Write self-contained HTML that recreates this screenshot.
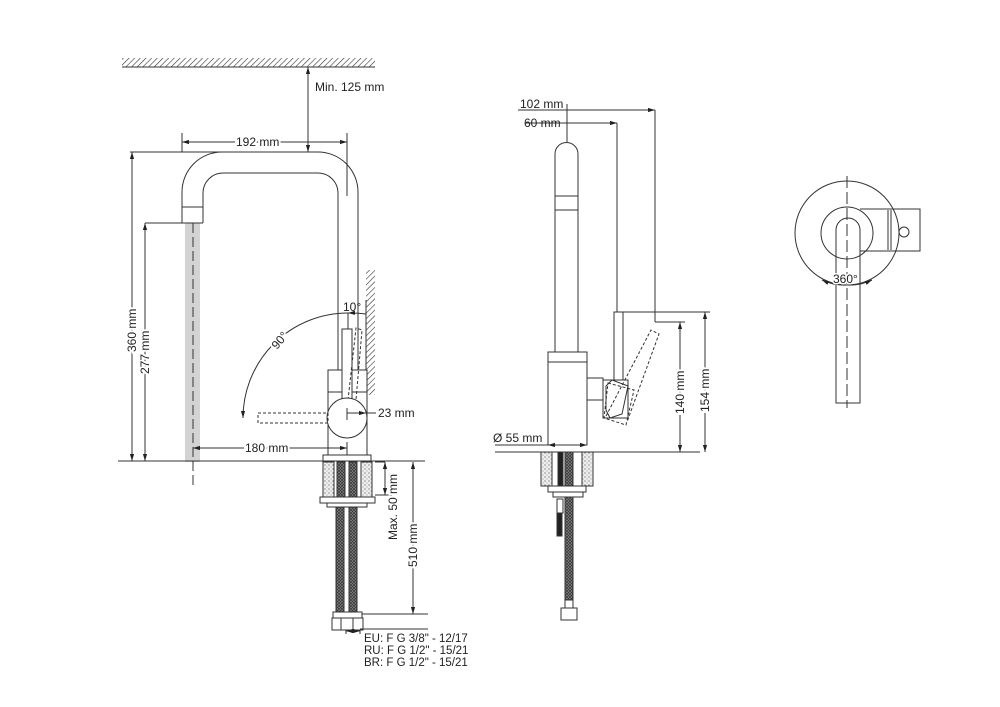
<!DOCTYPE html>
<html><head><meta charset="utf-8"><style>
html,body{margin:0;padding:0;background:#fff}
svg{display:block}
text{font-family:"Liberation Sans",Arial,sans-serif;fill:#222}
</style></head><body>
<svg width="1000" height="707" viewBox="0 0 1000 707" xmlns="http://www.w3.org/2000/svg">
<defs>
<pattern id="hatch" width="4" height="4" patternUnits="userSpaceOnUse" patternTransform="rotate(45)">
<line x1="0" y1="0" x2="0" y2="4" stroke="#333" stroke-width="1.2"/></pattern>
<pattern id="stip" width="4" height="4" patternUnits="userSpaceOnUse">
<rect width="4" height="4" fill="#eee"/><circle cx="1" cy="1" r="0.6" fill="#555"/><circle cx="3" cy="3" r="0.5" fill="#777"/></pattern>
<pattern id="braid" width="3" height="3" patternUnits="userSpaceOnUse">
<rect width="3" height="3" fill="#888"/><path d="M0 0L3 3M3 0L0 3" stroke="#333" stroke-width="0.7"/></pattern>
<marker id="a" viewBox="0 0 10 10" refX="10" refY="5" markerWidth="7" markerHeight="7" orient="auto-start-reverse"><path d="M0 2L10 5L0 8z" fill="#222"/></marker>
</defs>
<g stroke="#333" stroke-width="1" fill="none">
<rect x="122" y="58" width="253" height="9" fill="url(#hatch)" stroke="none"/>
<line x1="122" y1="67" x2="375" y2="67"/>
<line x1="308" y1="67" x2="308" y2="152" marker-start="url(#a)" marker-end="url(#a)"/>
<rect x="185" y="223" width="15" height="239" fill="#d3d3d3" stroke="none"/>
<line x1="193" y1="223" x2="193" y2="488" stroke-dasharray="10,4"/>
<path d="M182 223 V192 A40 40 0 0 1 222 152 H318 A40 40 0 0 1 358 192 V370"/>
<path d="M203 223 V193 A20 20 0 0 1 223 173 H318 A20 20 0 0 1 338 193 V370"/>
<line x1="182" y1="207" x2="203" y2="207"/><line x1="182" y1="223" x2="203" y2="223"/>
<rect x="366" y="270" width="9" height="125" fill="url(#hatch)" stroke="none"/>
<line x1="366" y1="300" x2="366" y2="395"/>
<rect x="328" y="370" width="39" height="85" fill="#fff"/>
<line x1="328" y1="392" x2="367" y2="392"/>
<rect x="342" y="329" width="10" height="72" fill="#fff"/>
<path d="M348 400 L356 328 L362 330 L356 400" stroke-dasharray="3,2"/>
<circle cx="347" cy="418" r="20" fill="#fff"/>
<rect x="258" y="413" width="70" height="10" stroke-dasharray="3,2"/>
<path d="M243 418 A105 105 0 0 1 348 313" marker-start="url(#a)"/>
<path d="M348 313 A105 105 0 0 1 366 314" marker-start="url(#a)"/>
<line x1="348" y1="313" x2="348" y2="329"/>
<line x1="347" y1="408" x2="347" y2="420"/>
<line x1="347" y1="413" x2="366" y2="413" marker-end="url(#a)"/>
<line x1="366" y1="413" x2="376" y2="413"/>
<line x1="118" y1="461" x2="425" y2="461"/>
<rect x="323" y="455" width="48" height="6" fill="#fff"/>
<rect x="323" y="462" width="11" height="35" fill="url(#stip)"/>
<rect x="361" y="462" width="11" height="35" fill="url(#stip)"/>
<rect x="337" y="462" width="8" height="35" fill="url(#braid)"/>
<rect x="349" y="462" width="8" height="35" fill="url(#braid)"/>
<rect x="320" y="497" width="55" height="6" fill="#fff"/>
<rect x="327" y="503" width="40" height="4" fill="#fff"/>
<rect x="336" y="507" width="8" height="105" fill="url(#braid)"/>
<rect x="349" y="507" width="8" height="105" fill="url(#braid)"/>
<rect x="333" y="612" width="29" height="6" fill="#fff"/>
<rect x="332" y="618" width="31" height="12" fill="#fff"/>
<line x1="341" y1="618" x2="341" y2="630"/><line x1="353" y1="618" x2="353" y2="630"/>
<line x1="346" y1="630" x2="346" y2="634"/><line x1="360" y1="630" x2="360" y2="634"/>
<line x1="346" y1="631" x2="360" y2="631" marker-start="url(#a)" marker-end="url(#a)"/>
<line x1="360" y1="629" x2="428" y2="629"/>
<line x1="182" y1="133" x2="182" y2="152"/><line x1="347" y1="133" x2="347" y2="196"/>
<line x1="182" y1="142" x2="347" y2="142" marker-start="url(#a)" marker-end="url(#a)"/>
<line x1="130" y1="152" x2="222" y2="152"/>
<line x1="132" y1="152" x2="132" y2="461" marker-start="url(#a)" marker-end="url(#a)"/>
<line x1="145" y1="223" x2="182" y2="223"/>
<line x1="145" y1="223" x2="145" y2="461" marker-start="url(#a)" marker-end="url(#a)"/>
<line x1="193" y1="448" x2="347" y2="448" marker-start="url(#a)" marker-end="url(#a)"/>
<line x1="347" y1="442" x2="347" y2="455"/>
<line x1="375" y1="462" x2="385" y2="462"/><line x1="375" y1="495" x2="392" y2="495"/>
<line x1="385" y1="462" x2="385" y2="495" marker-start="url(#a)" marker-end="url(#a)"/>
<line x1="413" y1="462" x2="413" y2="614" marker-start="url(#a)" marker-end="url(#a)"/>
<line x1="362" y1="614" x2="428" y2="614"/>
<line x1="518" y1="110" x2="655" y2="110"/><line x1="567" y1="110" x2="655" y2="110" marker-end="url(#a)"/>
<line x1="525" y1="123" x2="617" y2="123"/><line x1="567" y1="123" x2="617" y2="123" marker-end="url(#a)"/>
<line x1="567" y1="104" x2="567" y2="142"/>
<line x1="655" y1="110" x2="655" y2="322"/><line x1="617" y1="123" x2="617" y2="312"/>
<path d="M555 352 V154 A11.5 11.5 0 0 1 578 154 V352"/>
<line x1="555" y1="196" x2="578" y2="196"/><line x1="555" y1="210" x2="578" y2="210"/>
<rect x="548" y="352" width="39" height="93" fill="#fff"/>
<line x1="548" y1="362" x2="587" y2="362"/>
<path d="M587 378 H603 V400 H587"/>
<rect x="614" y="312" width="9" height="68" fill="#fff"/>
<rect x="603" y="380" width="25" height="38" fill="#fff"/>
<path d="M606 386 L612 380 L628 386 L622 414 L610 418 L606 410 Z"/>
<path d="M606 416 L651 330 L659 334 L627 422" stroke-dasharray="3,2"/>
<path d="M608 383 L634 390 L626 425 L604 418 Z" stroke-dasharray="3,2"/>
<line x1="495" y1="452" x2="700" y2="452"/>
<line x1="495" y1="445" x2="548" y2="445"/>
<line x1="548" y1="445" x2="587" y2="445" marker-start="url(#a)" marker-end="url(#a)"/>
<line x1="623" y1="312" x2="710" y2="312"/><line x1="655" y1="322" x2="685" y2="322"/>
<line x1="680" y1="322" x2="680" y2="452" marker-start="url(#a)" marker-end="url(#a)"/>
<line x1="705" y1="312" x2="705" y2="452" marker-start="url(#a)" marker-end="url(#a)"/>
<rect x="541" y="452" width="11" height="34" fill="url(#stip)"/>
<rect x="582" y="452" width="11" height="34" fill="url(#stip)"/>
<rect x="558" y="452" width="5" height="34" fill="#222"/>
<rect x="565" y="452" width="8" height="34" fill="url(#braid)"/>
<rect x="548" y="486" width="38" height="6" fill="#fff"/>
<rect x="553" y="492" width="30" height="5" fill="#fff"/>
<rect x="557" y="499" width="6" height="14" fill="#fff"/>
<rect x="557" y="513" width="5" height="23" fill="#222"/>
<rect x="565" y="497" width="8" height="110" fill="url(#braid)"/>
<rect x="565" y="600" width="8" height="8" fill="#fff"/>
<rect x="561" y="608" width="16" height="12" fill="#fff"/>
<path d="M860 209 H920 V251 H860"/>
<line x1="888" y1="210" x2="888" y2="250"/><line x1="891" y1="210" x2="891" y2="250"/>
<circle cx="847" cy="233" r="52" fill="none"/>
<circle cx="847" cy="233" r="26"/>
<circle cx="904" cy="232" r="5" fill="#fff"/>
<line x1="847" y1="176" x2="847" y2="408" stroke-dasharray="12,4"/>
<path d="M836 403 V230 A12 12 0 0 1 860 230 V403 Z" fill="none"/>
<path d="M822 280 A52 52 0 0 0 847 285" marker-start="url(#a)"/>
<path d="M872 280 A52 52 0 0 1 847 285" marker-start="url(#a)"/>
</g>
<g font-size="12">
<text x="315" y="91">Min. 125 mm</text>
<text x="236" y="146" style="paint-order:stroke" stroke="#fff" stroke-width="4">192 mm</text>
<text x="245" y="452" style="paint-order:stroke" stroke="#fff" stroke-width="4">180 mm</text>
<text x="378" y="417">23 mm</text>
<text x="343" y="311">10°</text>
<text transform="translate(277,350) rotate(-50)" style="paint-order:stroke" stroke="#fff" stroke-width="4">90°</text>
<text transform="translate(136,352) rotate(-90)" style="paint-order:stroke" stroke="#fff" stroke-width="4">360 mm</text>
<text transform="translate(149,374) rotate(-90)" style="paint-order:stroke" stroke="#fff" stroke-width="4">277 mm</text>
<text transform="translate(397,540) rotate(-90)" style="paint-order:stroke" stroke="#fff" stroke-width="4">Max. 50 mm</text>
<text transform="translate(417,567) rotate(-90)" style="paint-order:stroke" stroke="#fff" stroke-width="4">510 mm</text>
<text x="364" y="642" font-size="11.5">EU: F G 3/8" - 12/17</text>
<text x="364" y="654" font-size="11.5">RU: F G 1/2" - 15/21</text>
<text x="364" y="666" font-size="11.5">BR: F G 1/2" - 15/21</text>
<text x="520" y="108">102 mm</text>
<text x="524" y="127">60 mm</text>
<text x="493" y="442">Ø 55 mm</text>
<text transform="translate(684,414) rotate(-90)" style="paint-order:stroke" stroke="#fff" stroke-width="4">140 mm</text>
<text transform="translate(709,412) rotate(-90)" style="paint-order:stroke" stroke="#fff" stroke-width="4">154 mm</text>
<text x="833" y="283" style="paint-order:stroke" stroke="#fff" stroke-width="3">360°</text>
</g>
</svg>
</body></html>
